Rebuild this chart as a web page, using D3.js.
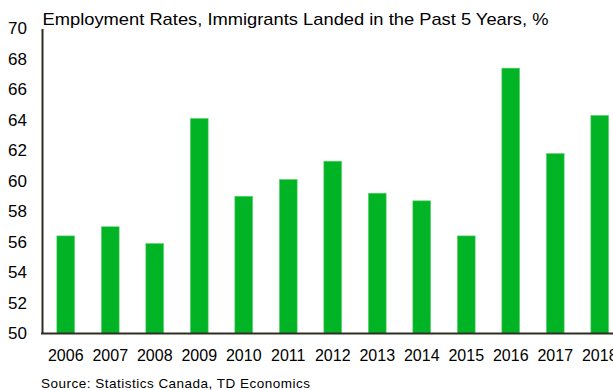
<!DOCTYPE html>
<html><head><meta charset="utf-8">
<script src="https://cdn.jsdelivr.net/npm/d3@7"></script>
<style>body{margin:0;background:#fff}svg{display:block}</style>
</head><body><svg id="c" width="613" height="390"></svg>
<script>
const categories = ["2006","2007","2008","2009","2010","2011","2012","2013","2014","2015","2016","2017","2018"];
const values = [56.4, 57.0, 55.9, 64.1, 59.0, 60.1, 61.3, 59.2, 58.7, 56.4, 67.4, 61.8, 64.3];
const yTicks = [50,52,54,56,58,60,62,64,66,68,70];
const title = "Employment Rates, Immigrants Landed in the Past 5 Years, %";
const source = "Source: Statistics Canada, TD Economics";

const svg = d3.select("#c");
const font = "'Liberation Sans', Arial, sans-serif";
const x = d3.scaleBand().domain(categories).range([43.5, 622]).paddingInner(0.6).paddingOuter(0.3);
const y = d3.scaleLinear().domain([50, 70]).range([333.5, 28.5]);

svg.append("g").selectAll("rect").data(values).join("rect")
  .attr("x", (d,i)=>x(categories[i]))
  .attr("width", x.bandwidth())
  .attr("y", d=>y(d))
  .attr("height", d=>y(50)-y(d))
  .attr("fill", "#00b425")
  .attr("stroke", "#5fd46f").attr("stroke-width", 0.6);

const ya = svg.append("g").attr("transform","translate(42,0)")
  .call(d3.axisLeft(y).tickValues(yTicks).tickSize(0).tickPadding(15));
ya.select(".domain").attr("stroke","#2e2e22").attr("stroke-width",2);
ya.selectAll("text").attr("font-family",font).attr("font-size",17).attr("fill","#000");

const xa = svg.append("g").attr("transform","translate(0,333.5)")
  .call(d3.axisBottom(x).tickSize(0).tickPadding(16));
xa.select(".domain").attr("stroke","#2e2e22").attr("stroke-width",2).attr("d","M41,0H613");
xa.selectAll("text").attr("font-family",font).attr("font-size",16).attr("fill","#000");

svg.append("text").attr("x",42.5).attr("y",24.5).attr("font-family",font).attr("font-size",17)
  .attr("textLength",506).attr("lengthAdjust","spacingAndGlyphs").attr("fill","#000").text(title);
svg.append("text").attr("x",41).attr("y",387.5).attr("font-family",font).attr("font-size",13.5)
  .attr("textLength",269).attr("fill","#000").text(source);
</script></body></html>
